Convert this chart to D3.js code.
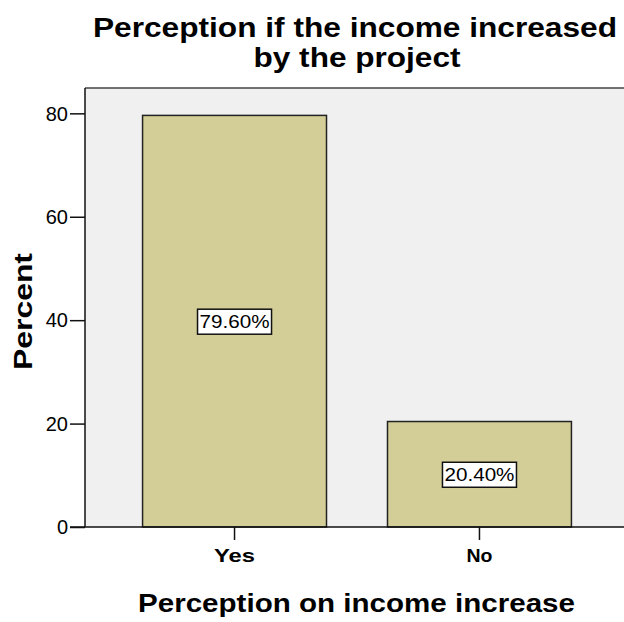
<!DOCTYPE html>
<html>
<head>
<meta charset="utf-8">
<script src="https://cdn.jsdelivr.net/npm/d3@7"></script>
<style>
  html, body { margin: 0; padding: 0; background: #ffffff; }
  svg { display: block; }
  text { font-family: "Liberation Sans", Arial, sans-serif; fill: #000; }
</style>
</head>
<body>
<svg id="chart" width="624" height="622"></svg>
<script>
const categories = ["Yes", "No"];
const percentValues = [79.6, 20.4];
const valueLabels = ["79.60%", "20.40%"];
const yTicks = [0, 20, 40, 60, 80];
const titleLines = ["Perception if the income increased", "by the project"];
const xAxisTitle = "Perception on income increase";
const yAxisTitle = "Percent";

const W = 624, H = 622;
const plot = { left: 85, top: 88, right: 629, bottom: 527 };

const svg = d3.select("#chart");

const x = d3.scaleBand()
  .domain(categories)
  .range([plot.left, plot.right])
  .paddingInner(0.249)
  .paddingOuter(0.235);

const y = d3.scaleLinear()
  .domain([0, 84.9])
  .range([plot.bottom, plot.top]);

// plot background
svg.append("rect")
  .attr("x", plot.left).attr("y", plot.top)
  .attr("width", plot.right - plot.left).attr("height", plot.bottom - plot.top)
  .attr("fill", "#f0f0f0");

// top frame line
svg.append("line")
  .attr("x1", plot.left).attr("x2", W)
  .attr("y1", plot.top).attr("y2", plot.top)
  .attr("stroke", "#444").attr("stroke-width", 1.5);

// bars
svg.selectAll("rect.bar")
  .data(categories.map((c, i) => ({ c, v: percentValues[i], l: valueLabels[i] })))
  .enter().append("rect")
  .attr("class", "bar")
  .attr("x", d => x(d.c))
  .attr("y", d => y(d.v))
  .attr("width", x.bandwidth())
  .attr("height", d => y(0) - y(d.v))
  .attr("fill", "#d3ce97")
  .attr("stroke", "#222")
  .attr("stroke-width", 1.5);

// y axis
const yAxis = d3.axisLeft(y).tickValues(yTicks).tickSize(15).tickPadding(2).tickFormat(d3.format("d"));
const gy = svg.append("g").attr("transform", `translate(${plot.left},0)`).call(yAxis);
gy.select(".domain").attr("stroke", "#111").attr("stroke-width", 1.5)
  .attr("d", `M0,${plot.top}V${plot.bottom}`);
gy.selectAll(".tick line").attr("stroke", "#111").attr("stroke-width", 1.5);
gy.selectAll(".tick text")
  .style("font-family", "'Liberation Sans', Arial, sans-serif")
  .style("font-size", "20px").attr("fill", "#000").attr("dy", "0.34em");

// x axis
const xAxis = d3.axisBottom(x).tickSize(13).tickPadding(4);
const gx = svg.append("g").attr("transform", `translate(0,${plot.bottom})`).call(xAxis);
gx.select(".domain").attr("stroke", "#111").attr("stroke-width", 1.5)
  .attr("d", `M${plot.left - 15},0H${W}`);
gx.selectAll(".tick line").attr("stroke", "#111").attr("stroke-width", 1.5);
gx.selectAll(".tick text")
  .style("font-family", "'Liberation Sans', Arial, sans-serif")
  .style("font-size", "19px").style("font-weight", "bold").attr("fill", "#000")
  .attr("dy", null).attr("y", 35)
  .attr("textLength", d => d === "Yes" ? 41 : 26)
  .attr("lengthAdjust", "spacingAndGlyphs");

// value labels with boxes
const lab = svg.selectAll("g.vlab")
  .data(categories.map((c, i) => ({ c, v: percentValues[i], l: valueLabels[i] })))
  .enter().append("g").attr("class", "vlab")
  .attr("transform", d => `translate(${x(d.c) + x.bandwidth() / 2},${(y(d.v) + y(0)) / 2})`);
lab.append("rect")
  .attr("x", -37).attr("y", -12).attr("width", 74).attr("height", 25)
  .attr("fill", "#fff").attr("stroke", "#111").attr("stroke-width", 1.5);
lab.append("text")
  .attr("text-anchor", "middle").attr("y", 7)
  .style("font-size", "19px")
  .attr("textLength", 70).attr("lengthAdjust", "spacingAndGlyphs")
  .text(d => d.l);

// title
const cx = 355;
svg.append("text").attr("x", cx).attr("y", 37).attr("text-anchor", "middle")
  .style("font-size", "27px").style("font-weight", "bold")
  .attr("textLength", 524).attr("lengthAdjust", "spacingAndGlyphs")
  .text(titleLines[0]);
svg.append("text").attr("x", 357).attr("y", 67).attr("text-anchor", "middle")
  .style("font-size", "27px").style("font-weight", "bold")
  .attr("textLength", 207).attr("lengthAdjust", "spacingAndGlyphs")
  .text(titleLines[1]);

// x axis title
svg.append("text").attr("x", 356.5).attr("y", 612).attr("text-anchor", "middle")
  .style("font-size", "26px").style("font-weight", "bold")
  .attr("textLength", 437).attr("lengthAdjust", "spacingAndGlyphs")
  .text(xAxisTitle);

// y axis title
svg.append("text").attr("transform", "translate(32,311.5) rotate(-90)")
  .attr("text-anchor", "middle")
  .style("font-size", "26px").style("font-weight", "bold")
  .attr("textLength", 117).attr("lengthAdjust", "spacingAndGlyphs")
  .text(yAxisTitle);
</script>
</body>
</html>
